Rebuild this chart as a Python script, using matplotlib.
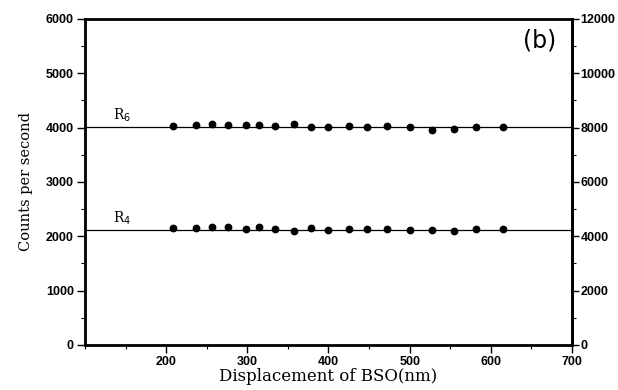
import matplotlib
matplotlib.use("Agg")
import matplotlib.pyplot as plt
from matplotlib.ticker import MultipleLocator

# --------------------------------------------------------------------------- #
#  Data
# --------------------------------------------------------------------------- #
displacement = [209, 237, 257, 276, 298, 315, 334, 358, 378, 399,
                425, 447, 472, 500, 527, 554, 582, 615]
r6_counts = [4030, 4045, 4070, 4045, 4055, 4055, 4035, 4070, 4020, 4005,
             4035, 4020, 4030, 4020, 3955, 3980, 4005, 4005]
r4_counts = [2155, 2155, 2170, 2165, 2140, 2170, 2135, 2100, 2160, 2110,
             2135, 2130, 2135, 2115, 2115, 2095, 2130, 2135]
r6_level = 4005
r4_level = 2120

x_ticks = [200, 300, 400, 500, 600, 700]
left_ticks = [0, 1000, 2000, 3000, 4000, 5000, 6000]
right_ticks = [0, 2000, 4000, 6000, 8000, 10000, 12000]

SERIF = "DejaVu Serif"
TICKFONT = dict(family="Liberation Sans", weight="bold", size=9)


def _style_labels(labels):
    for lbl in labels:
        lbl.set_fontfamily(TICKFONT["family"])
        lbl.set_fontweight(TICKFONT["weight"])
        lbl.set_fontsize(TICKFONT["size"])


fig = plt.figure(figsize=(6.18, 3.90), dpi=100)
ax = fig.add_axes([0.1375, 0.1154, 0.7881, 0.8359])

ax.axhline(r6_level, color="black", linewidth=0.9, zorder=2)
ax.axhline(r4_level, color="black", linewidth=0.9, zorder=2)
ax.plot(displacement, r6_counts, "o", color="black", markersize=4.6, zorder=3)
ax.plot(displacement, r4_counts, "o", color="black", markersize=4.6, zorder=3)

ax.set_xlim(100, 700)
ax.set_ylim(0, 6000)
ax.set_xticks(x_ticks)
ax.set_yticks(left_ticks)
ax.xaxis.set_minor_locator(MultipleLocator(50))
ax.yaxis.set_minor_locator(MultipleLocator(500))
ax.tick_params(which="major", direction="out", length=6, width=1.0, pad=2)
ax.tick_params(which="minor", direction="out", length=3, width=0.8)
ax.tick_params(axis="x", which="both", top=False)
ax.tick_params(axis="y", which="both", right=False)
_style_labels(ax.get_xticklabels() + ax.get_yticklabels())

ax.set_xlabel("Displacement of BSO(nm)", family=SERIF, fontsize=12, labelpad=0)
ax.set_ylabel("Counts per second", family=SERIF, fontsize=10.5, labelpad=9)

for side in ["left", "bottom", "right", "top"]:
    ax.spines[side].set_linewidth(2.0)

# right-hand scale
ax2 = ax.twinx()
ax2.set_ylim(0, 12000)
ax2.set_yticks(right_ticks)
ax2.yaxis.set_minor_locator(MultipleLocator(1000))
ax2.tick_params(which="major", direction="out", length=5, width=1.0, pad=1)
ax2.tick_params(which="minor", direction="out", length=3, width=0.8)
_style_labels(ax2.get_yticklabels())
ax2.spines["right"].set_linewidth(2.0)

# curve labels and panel tag
ax.text(135, r6_level + 60, r"R$_6$", family=SERIF, fontsize=10,
        ha="left", va="bottom")
ax.text(135, r4_level + 60, r"R$_4$", family=SERIF, fontsize=10,
        ha="left", va="bottom")
ax.text(0.967, 0.972, "(b)", transform=ax.transAxes, family="DejaVu Sans",
        fontsize=17, ha="right", va="top")

fig.savefig("out.png", dpi=100)
plt.close(fig)
